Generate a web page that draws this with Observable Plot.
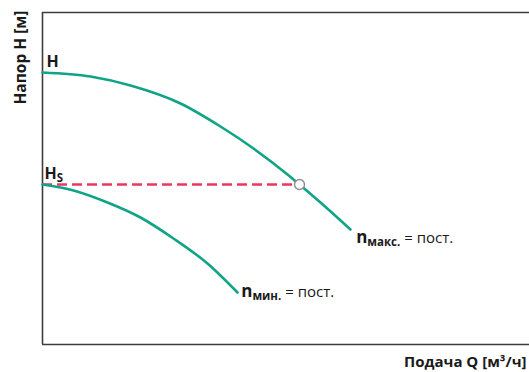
<!DOCTYPE html>
<html>
<head>
<meta charset="utf-8">
<script src="https://cdn.jsdelivr.net/npm/d3@7"></script>
<script src="https://cdn.jsdelivr.net/npm/@observablehq/plot@0.6"></script>
<style>
  html, body { margin: 0; padding: 0; background: #fff; }
  #chart svg { display: block; font-family: "Open Sans", sans-serif; }
</style>
</head>
<body>
<div id="chart"></div>
<script>
// Curve at maximum speed (Q, H) in arbitrary units 0..100
const qMax = [0, 9.86, 18.07, 28.34, 36.55, 43.33, 50.31, 52.77, 57.08, 63.24];
const hMax = [81.93, 80.72, 78.01, 72.59, 65.66, 59.04, 51.2, 48.19, 42.77, 34.64];
// Curve at minimum speed
const qMin = [0, 6.37, 13.35, 20.12, 26.9, 33.88, 40.04];
const hMin = [48.19, 46.39, 42.77, 38.25, 31.93, 24.4, 15.66];
// Operating point at set head Hs
const opQ = [52.77];
const opH = [48.19];
// Labels
const curveLabels = [
  {main: "H", sub: "", rest: "", q: 0.8, h: 83.6},
  {main: "H", sub: "S", rest: "", q: 0.4, h: 49.9},
  {main: "n", sub: "макс.", rest: " = пост.", q: 64.4, h: 30.5},
  {main: "n", sub: "мин.", rest: " = пост.", q: 40.8, h: 14.2}
];
const xLabel = "Подача Q [м³/ч]";
const yLabel = "Напор H [м]";

const green = "#10a386";
const red = "#e8385f";
const frameColor = "#3d3d3d";

const maxData = qMax.map((q, i) => ({q, h: hMax[i]}));
const minData = qMin.map((q, i) => ({q, h: hMin[i]}));
const opData = opQ.map((q, i) => ({q, h: opH[i]}));

const chart = Plot.plot({
  width: 529,
  height: 372,
  marginLeft: 42,
  marginTop: 12,
  marginBottom: 28,
  marginRight: 0,
  x: {domain: [0, 100], axis: null},
  y: {domain: [0, 100], axis: null},
  marks: [
    Plot.ruleX([0], {stroke: frameColor, strokeWidth: 1.6}),
    Plot.ruleY([0, 100], {stroke: frameColor, strokeWidth: 1.6}),
    Plot.ruleY(opData, {y: "h", x1: 0, x2: "q", stroke: red, strokeWidth: 2.6, strokeDasharray: "10,5"}),
    Plot.line(maxData, {x: "q", y: "h", stroke: green, strokeWidth: 2.6, curve: "monotone-x"}),
    Plot.line(minData, {x: "q", y: "h", stroke: green, strokeWidth: 2.6, curve: "monotone-x"}),
    Plot.dot(opData, {x: "q", y: "h", r: 5, fill: "white", stroke: "#8f8f8f", strokeWidth: 1.5}),
    Plot.text(curveLabels, {x: "q", y: "h", text: d => d.main + d.sub + d.rest, textAnchor: "start", lineAnchor: "bottom", fontSize: 15, fill: "#1a1a1a"}),
    Plot.text([yLabel], {frameAnchor: "top-left", text: d => d, rotate: -90, textAnchor: "end", lineAnchor: "middle", dx: -21, dy: -2, fontSize: 15.5, fontWeight: "bold", fill: "#1a1a1a"}),
    Plot.text([xLabel], {frameAnchor: "bottom-right", text: d => d, textAnchor: "end", lineAnchor: "bottom", dx: -3, dy: 22, fontSize: 15, fontWeight: "bold", fill: "#1a1a1a"})
  ]
});

// Format subscripted labels with tspans
d3.select(chart).selectAll("text").each(function() {
  const el = d3.select(this);
  const content = el.text();
  const lab = curveLabels.find(l => (l.main + l.sub + l.rest) === content);
  if (!lab) return;
  el.text(null);
  el.append("tspan").attr("font-weight", "bold").attr("font-size", lab.main === "n" ? 17 : 16).text(lab.main);
  if (lab.sub) el.append("tspan").attr("font-weight", "bold").attr("font-size", 11.5).attr("dy", 3).text(lab.sub);
  if (lab.rest) el.append("tspan").attr("font-size", 15).attr("dy", -3).text(lab.rest);
});

document.getElementById("chart").appendChild(chart);
</script>
</body>
</html>
